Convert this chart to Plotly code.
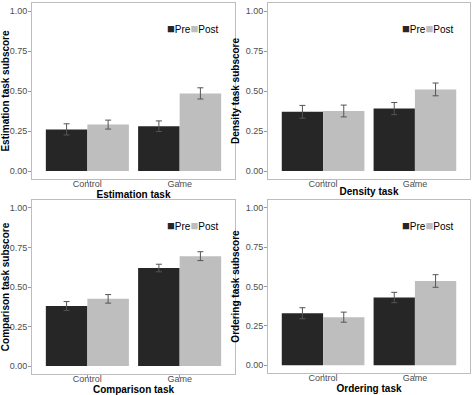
import plotly.graph_objects as go

groups = ["Control", "Game"]
panels = ["Estimation task", "Density task", "Comparison task", "Ordering task"]
ytitles = ["Estimation task subscore", "Density task subscore",
           "Comparison task subscore", "Ordering task subscore"]
series_names = ["Pre", "Post"]

pre_vals = [[0.26, 0.28], [0.37, 0.39], [0.38, 0.62], [0.33, 0.43]]
post_vals = [[0.29, 0.485], [0.375, 0.51], [0.425, 0.695], [0.305, 0.535]]
pre_err = [[0.035, 0.033], [0.04, 0.038], [0.028, 0.024], [0.035, 0.033]]
post_err = [[0.028, 0.035], [0.037, 0.04], [0.027, 0.028], [0.032, 0.04]]
yticks = [0.0, 0.25, 0.5, 0.75, 1.0]
ytick_labels = ["0.00", "0.25", "0.50", "0.75", "1.00"]

PRE_COLOR = "#262626"
POST_COLOR = "#bebebe"
W, H = 474, 395

# pixel boxes: (x0, x1, ytop, ybottom)
boxes = [(32, 235, 3, 179), (268, 470, 3, 179), (32, 235, 200, 374), (268, 470, 200, 373)]

fig = go.Figure()
layout = dict(width=W, height=H, margin=dict(l=0, r=0, t=0, b=0),
              template="none",
              paper_bgcolor="white", plot_bgcolor="white",
              barmode="group", bargap=0.1, bargroupgap=0.0,
              font=dict(family="Liberation Sans, Arial, sans-serif"),
              showlegend=False)
annotations = []

for i in range(4):
    sfx = "" if i == 0 else str(i + 1)
    xa, ya = "x" + sfx, "y" + sfx
    x0, x1, yt, yb = boxes[i]
    fig.add_trace(go.Bar(x=groups, y=pre_vals[i], name=series_names[0], marker_color=PRE_COLOR,
                         marker_line_width=0, xaxis=xa, yaxis=ya, offsetgroup="pre",
                         error_y=dict(type="data", array=pre_err[i], color="#555555",
                                      thickness=1, width=3)))
    fig.add_trace(go.Bar(x=groups, y=post_vals[i], name=series_names[1], marker_color=POST_COLOR,
                         marker_line_width=0, xaxis=xa, yaxis=ya, offsetgroup="post",
                         error_y=dict(type="data", array=post_err[i], color="#555555",
                                      thickness=1, width=3)))
    layout["xaxis" + sfx] = dict(domain=[x0 / W, x1 / W], anchor=ya, range=[-0.6, 1.6],
                                  automargin=False,
                                  showline=True, mirror=True, linecolor="#bdbdbd", linewidth=1,
                                  ticks="outside", ticklen=3, tickcolor="#999999",
                                  ticklabelstandoff=-7,
                                  tickfont=dict(size=9, color="#4d4d4d"),
                                  showgrid=False, zeroline=False,
                                  title=dict(text="<b>" + panels[i] + "</b>",
                                             font=dict(size=10, color="black"), standoff=0))
    layout["yaxis" + sfx] = dict(domain=[1 - yb / H, 1 - yt / H], anchor=xa, range=[-0.05, 1.05],
                                  automargin=False,
                                  tickvals=yticks, ticktext=ytick_labels,
                                  showline=True, mirror=True, linecolor="#bdbdbd", linewidth=1,
                                  ticks="outside", ticklen=3, tickcolor="#999999",
                                  ticklabelstandoff=-1,
                                  tickfont=dict(size=9, color="#4d4d4d"),
                                  showgrid=False, zeroline=False,
                                  title=dict(text="<b>" + ytitles[i] + "</b>",
                                             font=dict(size=10, color="black"), standoff=4))
    legend_text = ("<span style='color:%s;font-size:13px'>■</span>%s"
                   "<span style='color:%s;font-size:13px'>■</span>%s"
                   % (PRE_COLOR, series_names[0], POST_COLOR, series_names[1]))
    annotations.append(dict(text=legend_text, xref="paper", yref="paper",
                            x=(x1 - 14) / W, xanchor="right",
                            y=1 - (yt + 25) / H, yanchor="middle",
                            showarrow=False, font=dict(size=10, color="black")))

layout["annotations"] = annotations
fig.update_layout(**layout)
fig.write_html("out.html", config={"displayModeBar": False},
               post_script="document.body.style.margin='0';")
